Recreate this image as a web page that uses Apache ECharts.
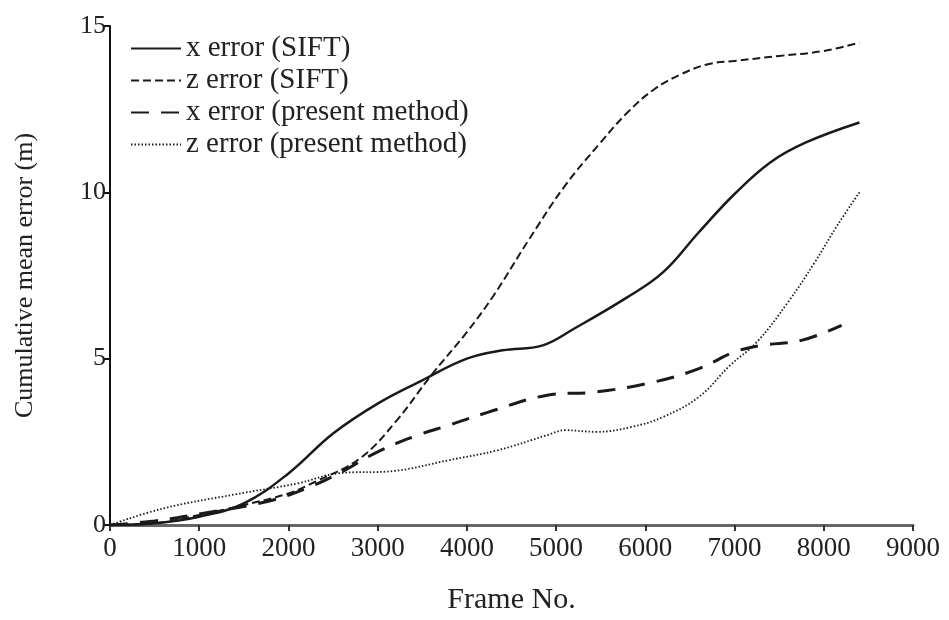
<!DOCTYPE html>
<html>
<head>
<meta charset="utf-8">
<script src="https://cdn.jsdelivr.net/npm/echarts@6/dist/echarts.min.js"></script>
<style>html,body{margin:0;padding:0;background:#fff}#c{width:949px;height:620px}</style>
</head>
<body>
<div id="c"></div>
<script>
var seriesNames = ['x error (SIFT)', 'z error (SIFT)', 'x error (present method)', 'z error (present method)'];
var xTicks = [0, 1000, 2000, 3000, 4000, 5000, 6000, 7000, 8000, 9000];
var yTicks = [0, 5, 10, 15];

var xErrSift = [[0,0],[500,0.05],[1000,0.25],[1500,0.65],[2000,1.55],[2500,2.75],[3000,3.65],[3500,4.35],[4000,5.0],[4400,5.25],[4850,5.4],[5200,5.9],[5800,6.85],[6200,7.6],[6600,8.8],[7000,9.95],[7400,10.9],[7800,11.5],[8400,12.1]];
var zErrSift = [[0,0],[500,0.05],[1000,0.3],[1500,0.6],[2000,0.95],[2300,1.3],[2800,2.0],[3200,3.1],[3600,4.5],[4000,5.8],[4300,6.9],[4700,8.6],[5100,10.2],[5500,11.5],[5800,12.4],[6100,13.1],[6400,13.55],[6700,13.85],[7000,13.95],[7500,14.1],[8000,14.25],[8400,14.5]];
var xErrPresent = [[0,0],[500,0.12],[1000,0.33],[1750,0.7],[2200,1.1],[2600,1.6],[3000,2.2],[3450,2.7],[3800,3.0],[4250,3.4],[4900,3.9],[5450,4.0],[6100,4.3],[6600,4.7],[7000,5.2],[7300,5.4],[7750,5.55],[8200,6.0]];
var zErrPresent = [[0,0],[600,0.5],[1400,0.92],[2100,1.25],[2550,1.55],[3200,1.63],[3800,1.95],[4350,2.25],[4900,2.7],[5100,2.85],[5450,2.8],[5850,2.95],[6200,3.25],[6600,3.85],[6950,4.8],[7250,5.5],[7600,6.7],[7900,7.9],[8150,9.0],[8400,10.0]];

var FONT = 'Liberation Serif';
var chart = echarts.init(document.getElementById('c'), null, {renderer: 'canvas'});

function mk(name, data, type, width) {
  return {
    name: name, type: 'line', data: data, smooth: 0.4, symbol: 'none',
    lineStyle: {color: '#1a1a1a', width: width, type: type},
    itemStyle: {color: '#1a1a1a'}
  };
}

chart.setOption({
  backgroundColor: '#fff',
  animation: false,
  textStyle: {fontFamily: FONT},
  grid: {left: 110, right: 36, top: 26, bottom: 95, containLabel: false},
  legend: {
    left: 125, top: 29, orient: 'vertical', itemWidth: 50, itemHeight: 14, itemGap: 3,
    itemStyle: {opacity: 0},
    textStyle: {fontFamily: FONT, fontSize: 29, color: '#222'},
    data: seriesNames
  },
  xAxis: {
    type: 'value', min: xTicks[0], max: xTicks[xTicks.length - 1], interval: 1000,
    name: 'Frame No.', nameLocation: 'middle', nameGap: 60,
    nameTextStyle: {fontFamily: FONT, fontSize: 30, color: '#222'},
    axisLine: {lineStyle: {color: '#666', width: 3}},
    axisTick: {length: 6, lineStyle: {color: '#333', width: 2}},
    axisLabel: {fontFamily: FONT, fontSize: 27, color: '#222', margin: 10, formatter: function (v) { return String(v); }},
    splitLine: {show: false}
  },
  yAxis: {
    type: 'value', min: yTicks[0], max: yTicks[yTicks.length - 1], interval: 5,
    name: 'Cumulative mean error (m)', nameLocation: 'middle', nameGap: 72,
    nameTextStyle: {fontFamily: FONT, fontSize: 26, color: '#222'},
    axisLine: {show: true, lineStyle: {color: '#111', width: 2}},
    axisTick: {show: true, length: 7, lineStyle: {color: '#111', width: 2}},
    axisLabel: {fontFamily: FONT, fontSize: 26, color: '#222', margin: 4},
    splitLine: {show: false}
  },
  series: [
    mk(seriesNames[0], xErrSift, 'solid', 2.5),
    mk(seriesNames[1], zErrSift, [8, 4], 2),
    mk(seriesNames[2], xErrPresent, [18, 12], 3),
    mk(seriesNames[3], zErrPresent, [1.5, 2], 1.8)
  ]
});
</script>
</body>
</html>
